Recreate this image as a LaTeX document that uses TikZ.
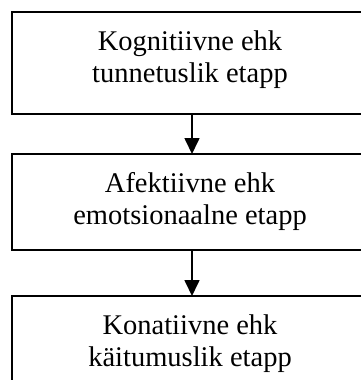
\documentclass[tikz,border=0pt]{standalone}
\usepackage{fontspec}
\setmainfont{Liberation Serif}
\usetikzlibrary{arrows.meta}
\begin{document}
\begin{tikzpicture}[x=1pt,y=-1pt,
  stagebox/.style={draw, line width=1.8pt, rectangle, outer sep=0pt,
    minimum width=360pt, inner sep=0pt},
  stagetext/.style={anchor=base, inner sep=0pt,
    font=\fontsize{28.5pt}{32pt}\selectfont},
  flow/.style={line width=1.7pt, -{Triangle[length=16pt,width=15pt]}}]
  \useasboundingbox (0,0) rectangle (361,380);
  \clip (0,0) rectangle (361,380);

  % three stages, stacked top to bottom
  \node[stagebox, minimum height=102pt] (b1) at (192,63) {};
  \node[stagebox, minimum height=96pt]  (b2) at (192,202) {};
  \node[stagebox, minimum height=97pt]  (b3) at (192,344.5) {};

  \node[stagetext] (t1a) at (190,50)  {Kognitiivne ehk};
  \node[stagetext] (t1b) at (190,82)  {tunnetuslik etapp};
  \node[stagetext] (t2a) at (190,192) {Afektiivne ehk};
  \node[stagetext] (t2b) at (190,224) {emotsionaalne etapp};
  \node[stagetext] (t3a) at (190,334) {Konatiivne ehk};
  \node[stagetext] (t3b) at (190,366) {käitumuslik etapp};

  % arrows between stages
  \draw[flow] (b1.south) -- (b2.north);
  \draw[flow] (b2.south) -- (b3.north);
\end{tikzpicture}
\end{document}
